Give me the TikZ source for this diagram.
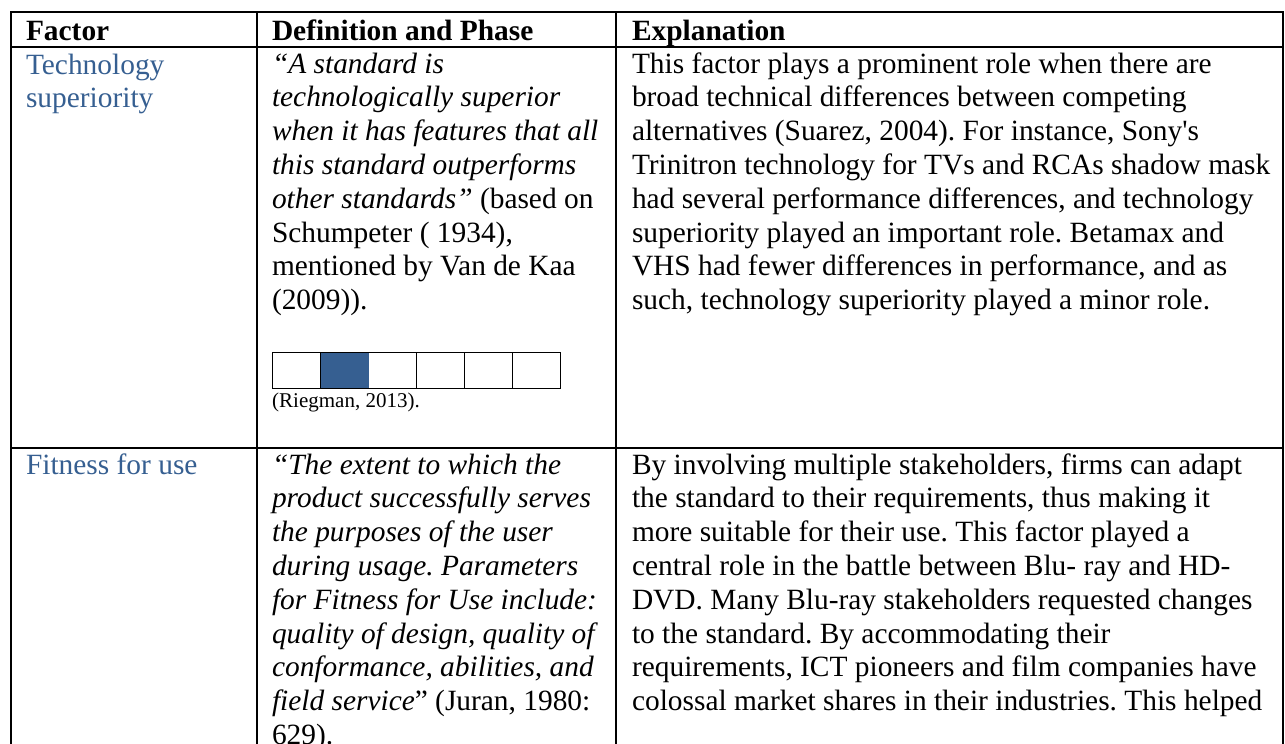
\documentclass[tikz,border=0pt]{standalone}
\usepackage{fontspec}
\setmainfont{Liberation Serif}
\definecolor{accent}{HTML}{365F91}
\tikzset{
  grid/.style={line width=1.7pt, draw=black},
  txt/.style={anchor=base west, inner sep=0pt, outer sep=0pt, font=\fontsize{29.4}{33.8}\selectfont\frenchspacing},
  head/.style={txt, font=\fontsize{29.4}{33.8}\selectfont\bfseries},
  factor/.style={txt, text=accent},
  small/.style={anchor=base west, inner sep=0pt, font=\fontsize{21}{24}\selectfont},
  cell/.style={draw=black, line width=1.4pt, minimum width=48pt, minimum height=35.5pt, inner sep=0pt, anchor=north west}
}
\begin{document}
\begin{tikzpicture}[x=1pt,y=-1pt]
\useasboundingbox (0,0) rectangle (1285,744);
\clip (0,0) rectangle (1285,744);
% table rules
\coordinate (TL) at (11,12);
\coordinate (TR) at (1283,12);
\coordinate (BL) at (11,780);
\coordinate (BR) at (1283,780);
\coordinate (H1) at (11,47);
\coordinate (H2) at (1283,47);
\coordinate (R1) at (11,448);
\coordinate (R2) at (1283,448);
\coordinate (C1t) at (257,12);
\coordinate (C1b) at (257,780);
\coordinate (C2t) at (616,12);
\coordinate (C2b) at (616,780);
\draw[grid] (BL) -- (TL) -- (TR) -- (BR);
\draw[grid] (H1) -- (H2);
\draw[grid] (R1) -- (R2);
\draw[grid] (C1t) -- (C1b);
\draw[grid] (C2t) -- (C2b);
% header
\node[head] (hf) at (26,40) {Factor};
\node[head] (hd) at (272,40) {Definition and Phase};
\node[head] (he) at (632,40) {Explanation};
% column 1
\node[factor] (f1a) at (26,74) {Technology};
\node[factor] (f1b) at (26,107.8) {superiority};
\node[factor] (f2a) at (26,474) {Fitness for use};
% column 2, row 1
\foreach \t [count=\i] in {
  {{\itshape “A standard is}},
  {{\itshape technologically superior}},
  {{\itshape when it has features that all}},
  {{\itshape this standard outperforms}},
  {{\itshape other standards”} (based on},
  {Schumpeter ( 1934),},
  {mentioned by Van de Kaa},
  {(2009)).}}
  \node[txt] (da\i) at (272,{73+33.8*(\i-1)}) {\t};
\foreach \k in {0,...,5}
  \node[cell] (sc\k) at ({272+48*\k},352) {};
\fill[accent] ([shift={(0.7pt,-0.7pt)}]sc1.north west) rectangle ([shift={(-0.7pt,0.7pt)}]sc1.south east);
\node[small] (rg) at (272,407) {(Riegman, 2013).};
% column 3, row 1
\foreach \t [count=\i] in {
  {This factor plays a prominent role when there are},
  {broad technical differences between competing},
  {alternatives (Suarez, 2004). For instance, Sony\textquotesingle s},
  {Trinitron technology for TVs and RCAs shadow mask},
  {had several performance differences, and technology},
  {superiority played an important role. Betamax and},
  {VHS had fewer differences in performance, and as},
  {such, technology superiority played a minor role.}}
  \node[txt] (ea\i) at (632,{73+33.8*(\i-1)}) {\t};
% column 2, row 2
\foreach \t [count=\i] in {
  {{\itshape “The extent to which the}},
  {{\itshape product successfully serves}},
  {{\itshape the purposes of the user}},
  {{\itshape during usage. Parameters}},
  {{\itshape for Fitness for Use include:}},
  {{\itshape quality of design, quality of}},
  {{\itshape conformance, abilities, and}},
  {{\itshape field service}” (Juran, 1980:},
  {629).}}
  \node[txt] (db\i) at (272,{474+33.8*(\i-1)}) {\t};
% column 3, row 2
\foreach \t [count=\i] in {
  {By involving multiple stakeholders, firms can adapt},
  {the standard to their requirements, thus making it},
  {more suitable for their use. This factor played a},
  {central role in the battle between Blu- ray and HD-},
  {DVD. Many Blu-ray stakeholders requested changes},
  {to the standard. By accommodating their},
  {requirements, ICT pioneers and film companies have},
  {colossal market shares in their industries. This helped}}
  \node[txt] (eb\i) at (632,{474+33.8*(\i-1)}) {\t};
\end{tikzpicture}
\end{document}
